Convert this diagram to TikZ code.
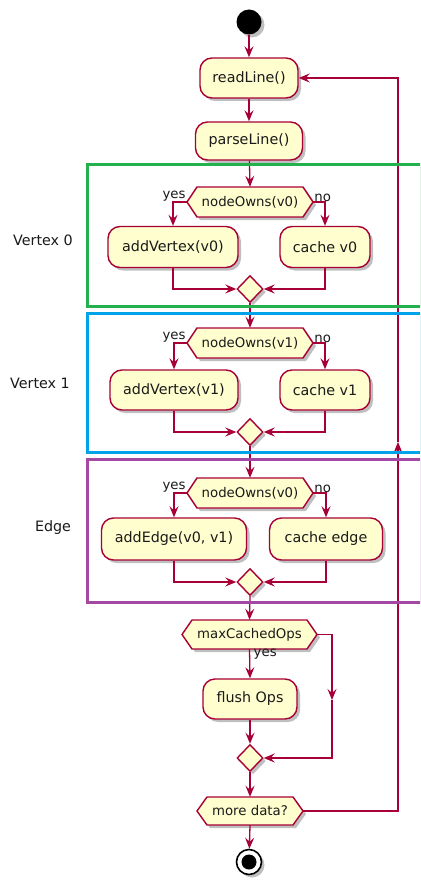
\documentclass[tikz,border=0pt]{standalone}
\usepackage{fontspec}
\setmainfont{DejaVu Sans}
\usetikzlibrary{arrows.meta,shapes.geometric,shadows}
\definecolor{pfill}{HTML}{FEFECE}
\definecolor{pline}{HTML}{A80036}
\definecolor{gframe}{HTML}{22B14C}
\definecolor{cframe}{HTML}{00A2E8}
\definecolor{mframe}{HTML}{A349A4}
\definecolor{txt}{HTML}{1A1A1A}
\tikzset{
  shad/.style={drop shadow={shadow xshift=3pt, shadow yshift=-3pt, opacity=0.25, fill=black}},
  act/.style={rectangle, rounded corners=12pt, draw=pline, fill=pfill, line width=1.4pt,
    minimum height=40pt, inner sep=0pt, text=txt, font=\fontsize{14.3}{16}\selectfont, shad},
  hexline/.style={draw=pline, fill=pfill, line width=1.4pt, shad},
  hextext/.style={rectangle, inner sep=0pt, minimum height=30pt, text=txt, font=\fontsize{13.3}{15}\selectfont},
  merge/.style={diamond, draw=pline, fill=pfill, line width=1.4pt, inner sep=0pt,
    minimum width=26pt, minimum height=27pt, shad},
  lbl/.style={inner sep=1pt, text=txt, font=\fontsize{13.3}{15}\selectfont},
  side/.style={inner sep=0pt, text=txt, font=\fontsize{14.3}{16}\selectfont},
  conn/.style={draw=pline, line width=1.3pt},
  arr/.style={conn, -{Stealth[length=11pt,width=9pt,inset=4pt]}},
  frame/.style={line width=3pt},
}
\newcommand\hexnode[6]{%
  \path[hexline] (#2-#4,#3) -- (#2-#4+10,#3-#5) -- (#2+#4-10,#3-#5) -- (#2+#4,#3)
     -- (#2+#4-10,#3+#5) -- (#2-#4+10,#3+#5) -- cycle;
  \node[hextext, minimum width={2*#4pt}, minimum height={2*#5pt}] (#1) at (#2,#3) {#6};}
\begin{document}
\begin{tikzpicture}[x=1pt,y=-1pt]
\useasboundingbox (0,0) rectangle (420,880);
\clip (0,0) rectangle (420,880);
\fill[white] (0,0) rectangle (420,880);

% start / end
\node[circle, fill=black, minimum size=25pt, inner sep=0pt, shad] (start) at (249,22) {};
\node[circle, draw=black, fill=white, line width=1.6pt, minimum size=25pt, inner sep=0pt, shad] (stop) at (249,862) {};
\node[circle, fill=black, minimum size=15pt, inner sep=0pt] (stopin) at (249,862) {};

% activities
\node[act, minimum width=98pt] (read) at (249,78) {readLine()};
\node[act, minimum width=107pt, minimum height=38pt] (parse) at (249,141) {parseLine()};
\node[act, minimum width=130pt, minimum height=41pt] (a1) at (173,247) {addVertex(v0)};
\node[act, minimum width=90pt, minimum height=41pt] (c1) at (325,247) {cache v0};
\node[act, minimum width=128pt] (a2) at (174,390) {addVertex(v1)};
\node[act, minimum width=90pt] (c2) at (325,390) {cache v1};
\node[act, minimum width=145pt, minimum height=42pt] (a3) at (174,539) {addEdge(v0, v1)};
\node[act, minimum width=113pt, minimum height=42pt] (c3) at (326,539) {cache edge};
\node[act, minimum width=94pt] (fl) at (250,699) {flush Ops};

% decisions
\hexnode{d1}{250}{202}{63}{15}{nodeOwns(v0)}
\hexnode{d2}{250}{343}{63}{15}{nodeOwns(v1)}
\hexnode{d3}{250}{493}{63}{15}{nodeOwns(v0)}
\hexnode{mx}{249.5}{634.5}{67.5}{14.5}{maxCachedOps}
\hexnode{md}{250}{811}{53}{14}{more data?}

% merges
\node[merge] (m1) at (250,289) {};
\node[merge] (m2) at (250,432) {};
\node[merge] (m3) at (250,582) {};
\node[merge] (m4) at (250,758) {};

% side labels
\node[side] (lv0) at (43,240) {Vertex 0};
\node[side] (lv1) at (40,383) {Vertex 1};
\node[side] (led) at (53,528) {Edge};

% branch labels
\node[lbl, anchor=south east] (y1) at ([yshift=-0.5pt]d1.west) {yes};
\node[lbl, anchor=south west] (n1) at ([yshift=-0.5pt]d1.east) {no};
\node[lbl, anchor=south east] (y2) at ([yshift=-0.5pt]d2.west) {yes};
\node[lbl, anchor=south west] (n2) at ([yshift=-0.5pt]d2.east) {no};
\node[lbl, anchor=south east] (y3) at ([yshift=-0.5pt]d3.west) {yes};
\node[lbl, anchor=south west] (n3) at ([yshift=-0.5pt]d3.east) {no};
\node[lbl, anchor=north west] (y4) at ([xshift=3pt,yshift=1pt]mx.south) {yes};

% coordinates
\coordinate (nx) at (332,700);
\coordinate (lp) at (398,442);

% connectors
\draw[arr] (start) -- (read);
\draw[arr] (read) -- (parse);
\draw[arr] (parse) -- (d1.north);
\draw[arr] (d1.west) -| (a1.north);
\draw[arr] (d1.east) -| (c1.north);
\draw[arr] (a1.south) |- (m1.west);
\draw[arr] (c1.south) |- (m1.east);
\draw[arr] (m1.south) -- (d2.north);
\draw[arr] (d2.west) -| (a2.north);
\draw[arr] (d2.east) -| (c2.north);
\draw[arr] (a2.south) |- (m2.west);
\draw[arr] (c2.south) |- (m2.east);
\draw[arr] (m2.south) -- (d3.north);
\draw[arr] (d3.west) -| (a3.north);
\draw[arr] (d3.east) -| (c3.north);
\draw[arr] (a3.south) |- (m3.west);
\draw[arr] (c3.south) |- (m3.east);
\draw[arr] (m3.south) -- (mx.north);
\draw[arr] (mx.south) -- (fl.north);
\draw[arr] (mx.east) -| (nx);
\draw[arr] (nx) |- (m4.east);
\draw[arr] (fl.south) -- (m4.north);
\draw[arr] (m4.south) -- (md.north);
\draw[arr] (md.south) -- (stop);
\draw[arr] (md.east) -| (lp);
\draw[arr] (lp) |- (read.east);

% frames
\draw[frame, gframe] (87,164.5) rectangle (421,306.5);
\draw[frame, cframe] (87,313.5) rectangle (421.5,452);
\draw[frame, mframe] (87,459) rectangle (421.5,602);
\end{tikzpicture}
\end{document}
